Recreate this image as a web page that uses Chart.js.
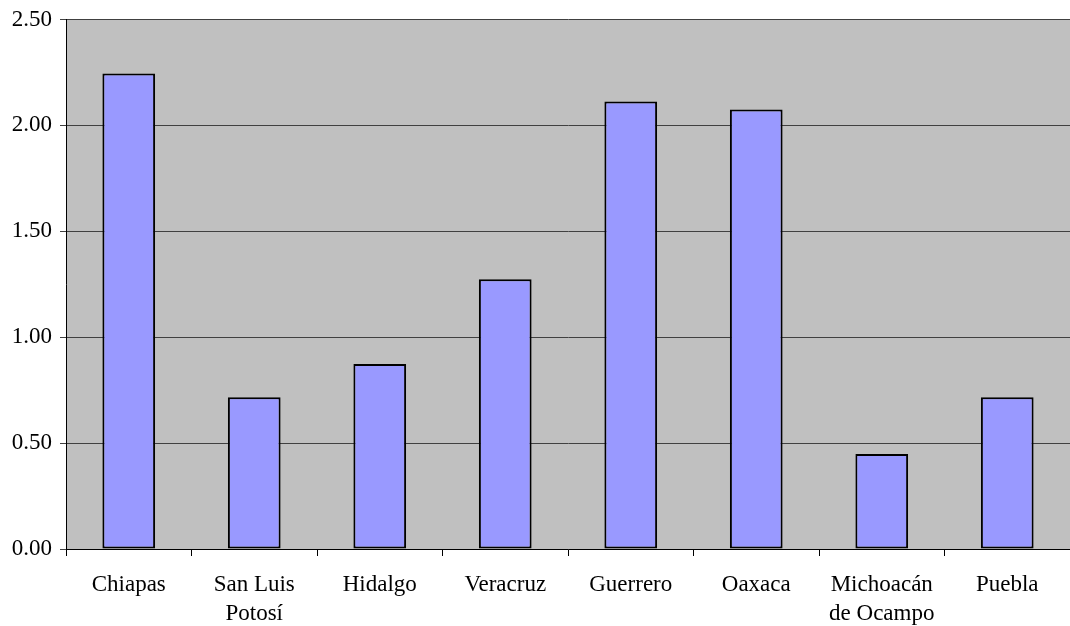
<!DOCTYPE html>
<html>
<head>
<meta charset="utf-8">
<script src="https://cdn.jsdelivr.net/npm/chart.js@4/dist/chart.umd.min.js"></script>
<style>
  html, body { margin: 0; padding: 0; background: #fff; }
  #wrap { width: 1070px; height: 626px; }
</style>
</head>
<body>
<div id="wrap"><canvas id="chart"></canvas></div>
<script>
const states = [
    'Chiapas',
    ['San Luis', 'Potosí'],
    'Hidalgo',
    'Veracruz',
    'Guerrero',
    'Oaxaca',
    ['Michoacán', 'de Ocampo'],
    'Puebla'
];
const values = [2.245, 0.717, 0.873, 1.274, 2.113, 2.075, 0.448, 0.717];
const yTicks = [0, 0.5, 1, 1.5, 2, 2.5];

// grey plot background behind the bars
const plotBackground = {
    id: 'plotBackground',
    beforeDraw: function (chart) {
        const a = chart.chartArea;
        const c = chart.ctx;
        c.save();
        c.fillStyle = '#c0c0c0';
        c.fillRect(a.left, a.top, a.right - a.left, a.bottom - a.top);
        c.restore();
    }
};

const serif = '"Liberation Serif", "Times New Roman", serif';

new Chart(document.getElementById('chart'), {
    type: 'bar',
    data: {
        labels: states,
        datasets: [{
            data: values,
            backgroundColor: '#9999ff',
            borderColor: '#000000',
            borderWidth: 2,
            borderSkipped: false,
            barPercentage: 0.42,
            categoryPercentage: 1.0
        }]
    },
    options: {
        responsive: true,
        maintainAspectRatio: false,
        animation: false,
        layout: { padding: { top: 19, right: 0, left: 0, bottom: 0 } },
        plugins: {
            legend: { display: false },
            tooltip: { enabled: false }
        },
        scales: {
            x: {
                offset: true,
                grid: {
                    offset: true,
                    drawOnChartArea: false,
                    color: '#000000',
                    tickLength: 7
                },
                border: { color: '#000000', width: 1 },
                ticks: {
                    color: '#000000',
                    font: { family: serif, size: 23, lineHeight: 1.25 },
                    maxRotation: 0,
                    padding: 15
                },
                afterFit: function (s) { s.height = 77; }
            },
            y: {
                min: 0,
                max: 2.5,
                afterBuildTicks: function (s) { s.ticks = yTicks.map(v => ({ value: v })); },
                grid: { color: '#404040', tickLength: 6 },
                border: { color: '#000000', width: 1 },
                ticks: {
                    color: '#000000',
                    font: { family: serif, size: 23, lineHeight: 1 },
                    padding: 8,
                    callback: v => Number(v).toFixed(2)
                },
                afterFit: function (s) { s.width = 66; }
            }
        }
    },
    plugins: [plotBackground]
});
</script>
</body>
</html>
